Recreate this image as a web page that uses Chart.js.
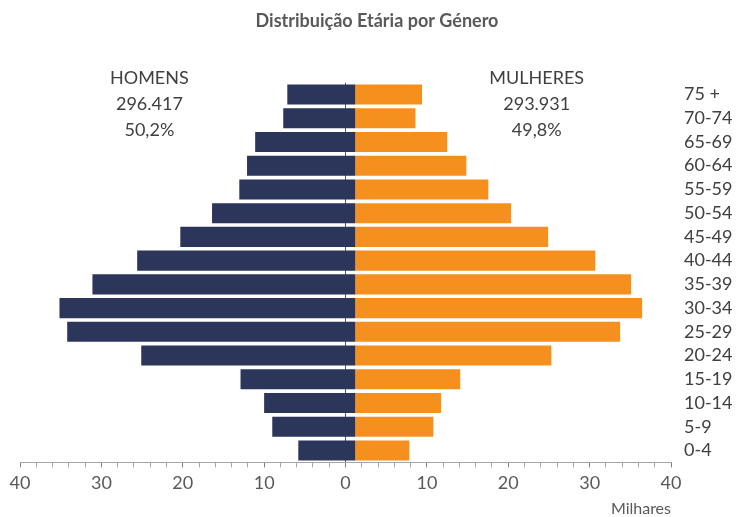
<!DOCTYPE html>
<html>
<head>
<meta charset="utf-8">
<script src="https://cdn.jsdelivr.net/npm/chart.js@4"></script>
<style>
  html, body { margin: 0; padding: 0; background: #fff; }
  #wrap { width: 738px; height: 517px; }
</style>
</head>
<body>
<div id="wrap"><canvas id="myChart"></canvas></div>
<script>
// faixas etarias, de cima para baixo
const ages = ['75 +', '70-74', '65-69', '60-64', '55-59', '50-54', '45-49', '40-44',
  '35-39', '30-34', '25-29', '20-24', '15-19', '10-14', '5-9', '0-4'];
// milhares de pessoas
const homens = [8.35, 8.85, 12.3, 13.3, 14.25, 17.6, 21.5, 26.8,
  32.3, 36.35, 35.4, 26.3, 14.1, 11.2, 10.2, 7.0];
const mulheres = [8.2, 7.4, 11.3, 13.65, 16.35, 19.15, 23.7, 29.5,
  33.9, 35.25, 32.55, 24.1, 12.9, 10.55, 9.6, 6.65];
const totalHomens = '296.417';
const totalMulheres = '293.931';
const pctHomens = '50,2%';
const pctMulheres = '49,8%';
const xTicks = [-40, -30, -20, -10, 0, 10, 20, 30, 40];

// the bars meet a little to the right of the 0 line, like in the original sheet
const BASE = 1.2;

const FONT = 'Lato, "Open Sans", sans-serif';
const TXT = '#404040';

const sideLabels = {
  id: 'sideLabels',
  afterDraw(chart) {
    const c = chart.ctx;
    const x = chart.scales.x;
    const top = chart.chartArea.top;
    c.save();
    c.font = '18px ' + FONT;
    c.fillStyle = TXT;
    c.textAlign = 'center';
    c.textBaseline = 'middle';
    const put = (v, lines) => {
      const px = x.getPixelForValue(v);
      lines.forEach((t, i) => c.fillText(t, px, top - 4 + i * 26));
    };
    put(-24.1, ['HOMENS', totalHomens, pctHomens]);
    put(23.5, ['MULHERES', totalMulheres, pctMulheres]);
    c.restore();
  }
};

new Chart(document.getElementById('myChart'), {
  type: 'bar',
  data: {
    labels: ages,
    datasets: [
      {
        label: 'Homens',
        data: homens.map(v => [BASE - v, BASE]),
        backgroundColor: '#2c355a',
        grouped: false,
        barPercentage: 0.845,
        categoryPercentage: 1
      },
      {
        label: 'Mulheres',
        data: mulheres.map(v => [BASE, BASE + v]),
        backgroundColor: '#f5901e',
        grouped: false,
        barPercentage: 0.845,
        categoryPercentage: 1
      }
    ]
  },
  options: {
    indexAxis: 'y',
    responsive: true,
    maintainAspectRatio: false,
    animation: false,
    layout: { padding: { left: 20, right: 4, top: 0, bottom: 0 } },
    plugins: {
      legend: { display: false },
      tooltip: { enabled: false },
      title: {
        display: true,
        text: 'Distribuição Etária por Género',
        color: '#595959',
        font: { family: FONT, size: 18, weight: 'bold' },
        padding: { top: 10, bottom: 51 }
      }
    },
    scales: {
      x: {
        min: -40,
        max: 40,
        z: 1,
        border: { display: true, color: '#a6a6a6', width: 1 },
        grid: {
          drawOnChartArea: true,
          color: ctx => (ctx.tick && ctx.tick.value === 0) ? '#595959' : 'rgba(0,0,0,0)',
          tickColor: ctx => (ctx.tick && ctx.tick.value % 10 === 0) ? '#7f7f7f' : '#a6a6a6',
          tickLength: 5,
          tickWidth: 1
        },
        ticks: {
          stepSize: 2,
          autoSkip: false,
          maxRotation: 0,
          color: '#595959',
          font: { family: FONT, size: 18 },
          padding: 5,
          callback: v => xTicks.includes(v) ? String(Math.abs(v)) : ''
        },
        title: {
          display: true,
          text: 'Milhares',
          align: 'end',
          color: '#595959',
          font: { family: FONT, size: 16, lineHeight: 1 },
          padding: { top: 2, bottom: 0 }
        }
      },
      y: {
        position: 'right',
        grid: { display: false, drawTicks: false },
        border: { display: false },
        afterFit: s => { s.width = 63; },
        ticks: {
          autoSkip: false,
          color: TXT,
          font: { family: FONT, size: 18 },
          padding: 13,
          crossAlign: 'near'
        }
      }
    }
  },
  plugins: [sideLabels]
});
</script>
</body>
</html>
